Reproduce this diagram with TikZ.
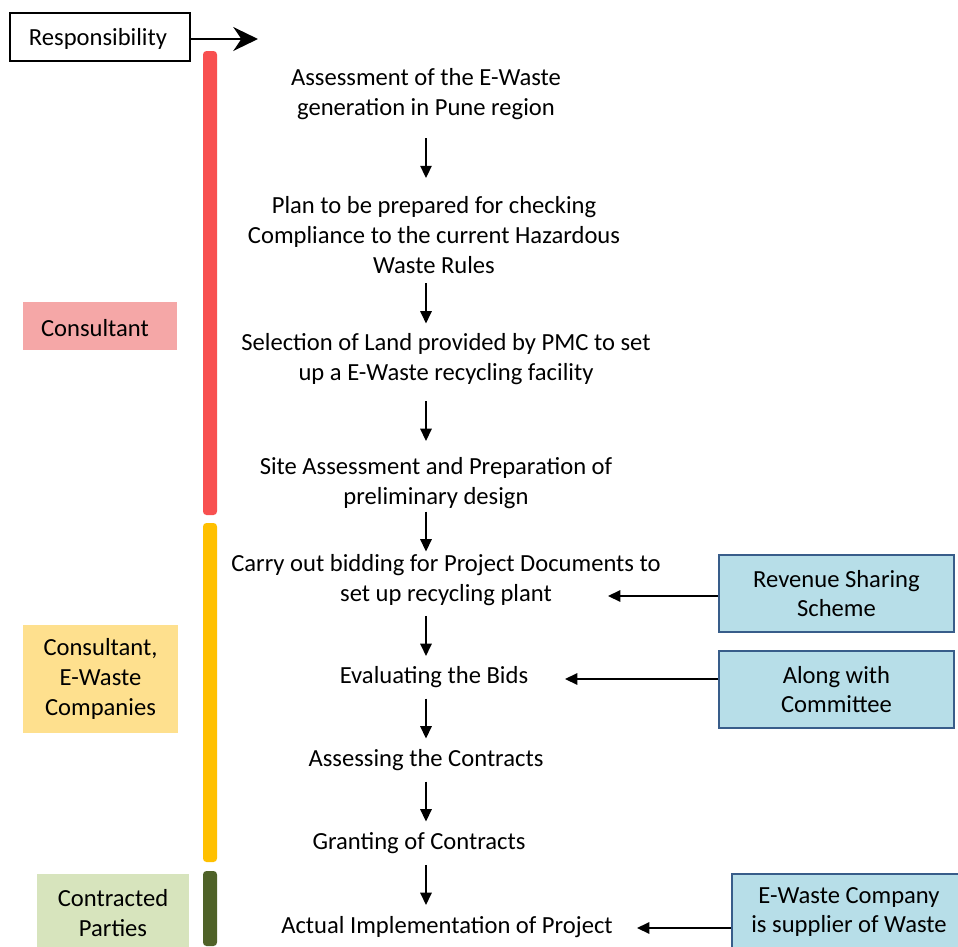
\documentclass[tikz,border=0pt]{standalone}
\usepackage{fontspec}
\setmainfont{Carlito}
\usetikzlibrary{arrows.meta,calc}

\definecolor{barred}{RGB}{248,80,80}
\definecolor{baryellow}{RGB}{255,192,0}
\definecolor{bargreen}{RGB}{79,98,40}
\definecolor{rolered}{RGB}{245,167,167}
\definecolor{roleyellow}{RGB}{254,224,142}
\definecolor{rolegreen}{RGB}{215,228,189}
\definecolor{notefill}{RGB}{183,222,232}
\definecolor{noteedge}{RGB}{56,93,138}

\begin{document}
\begin{tikzpicture}[x=0.02cm, y=-0.02cm,
    font=\fontsize{14}{17}\selectfont,
    stepnode/.style={align=center, inner sep=2pt},
    rolebox/.style={align=center, inner sep=0pt},
    notebox/.style={draw=noteedge, fill=notefill, line width=0.9pt, align=center,
                    minimum width=4.7cm, minimum height=1.54cm, inner sep=0pt},
    flow/.style={-{Triangle[length=7pt,width=6.5pt]}, line width=0.85pt}]
    \useasboundingbox (0,0) rectangle (958,947);

    % Responsibility header
    \node[draw, line width=0.8pt, minimum width=3.6cm, minimum height=0.96cm, inner sep=0pt]
        (resp) at (100,37) {};
    \node (resptext) at (98,39) {Responsibility};
    \coordinate (resptip) at (258,39);
    \draw[-{Stealth[length=14pt,width=13.5pt,inset=4.5pt]}, line width=1.5pt] (resp.east |- resptip) -- (resptip);

    % Responsibility bars (colour per phase)
    \fill[barred, rounded corners=2pt] (203,51) rectangle (217,515);
    \fill[baryellow, rounded corners=2pt] (203,523) rectangle (217,862);
    \fill[bargreen, rounded corners=2pt] (203,871) rectangle (217,946);

    % Who is responsible
    \node[rolebox, fill=rolered, minimum width=3.08cm, minimum height=0.96cm]
        (cons) at (100,326) {};
    \node (constext) at (95,328) {Consultant};
    \node[rolebox, fill=roleyellow, minimum width=3.1cm, minimum height=2.16cm]
        (consew) at (100.5,679) {Consultant,\\E-Waste\\Companies};
    \node[rolebox, fill=rolegreen, minimum width=3.04cm, minimum height=1.56cm]
        (parties) at (113,913) {Contracted\\Parties};

    % Steps of the process
    \node[stepnode] (s1) at (426,94) {Assessment of the E-Waste\\generation in Pune region};
    \node[stepnode] (s2) at (434,235) {Plan to be prepared for checking\\Compliance to the current Hazardous\\Waste Rules};
    \node[stepnode] (s3) at (446,359) {Selection of Land provided by PMC to set\\up a E-Waste recycling facility};
    \node[stepnode] (s4) at (436,483) {Site Assessment and Preparation of\\preliminary design};
    \node[stepnode] (s5) at (446,580) {Carry out bidding for Project Documents to\\set up recycling plant};
    \node[stepnode] (s6) at (434,677) {Evaluating the Bids};
    \node[stepnode] (s7) at (426,760) {Assessing the Contracts};
    \node[stepnode] (s8) at (419,843) {Granting of Contracts};
    \node[stepnode] (s9) at (447,927) {Actual Implementation of Project};

    % Arrows between steps
    \foreach \a/\b in {s1/s2, s2/s3, s3/s4, s4/s5, s5/s6, s6/s7, s7/s8, s8/s9} {
        \coordinate (m) at ($(\a.south)!0.5!(\b.north)$);
        \draw[flow] ($(m -| s1)+(0,-20)$) -- ($(m -| s1)+(0,20)$);
    }

    % Notes on the right
    \node[notebox] (rev) at (836.5,593.5) {Revenue Sharing\\Scheme};
    \node[notebox] (comm) at (836.5,689.5) {Along with\\Committee};
    \node[notebox, minimum width=4.68cm, minimum height=1.52cm] (supp) at (849,912) {E-Waste Company\\is supplier of Waste};

    \coordinate (revtip) at (608,596);
    \coordinate (commtip) at (565,679);
    \coordinate (supptip) at (637,928);
    \draw[flow] (revtip -| rev.west) -- (revtip);
    \draw[flow] (commtip -| comm.west) -- (commtip);
    \draw[flow] (supptip -| supp.west) -- (supptip);
\end{tikzpicture}
\end{document}
